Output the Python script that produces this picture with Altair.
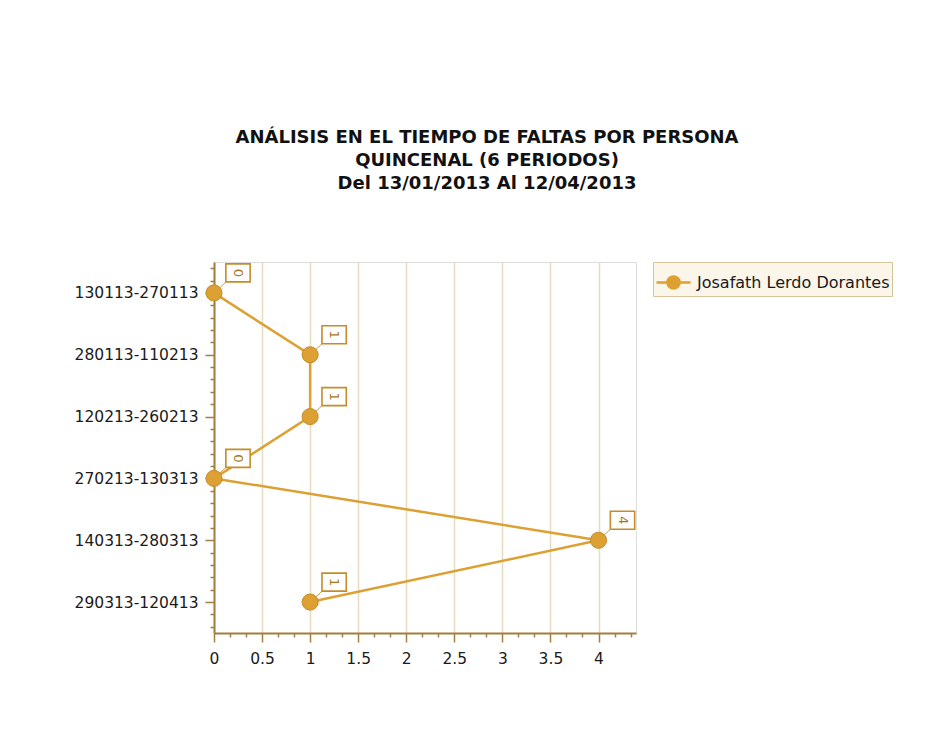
import altair as alt
import pandas as pd

# ---- data ----
periods = ["130113-270113", "280113-110213", "120213-260213",
           "270213-130313", "140313-280313", "290313-120413"]
faltas = [0, 1, 1, 0, 4, 1]
persona = "Josafath Lerdo Dorantes"
title_lines = ["ANÁLISIS EN EL TIEMPO DE FALTAS POR PERSONA",
               "QUINCENAL (6 PERIODOS)",
               "Del 13/01/2013 Al 12/04/2013"]
x_ticks = [round(i / 6, 6) for i in range(27)]            # majors every 0.5, minors every 1/6
y_ticks = [round(-0.4 + 0.2 * k, 6) for k in range(30)]    # majors on periods, 4 minors between

df = pd.DataFrame({
    "idx": list(range(len(periods))),
    "periodo": periods,
    "faltas": faltas,
    "persona": [persona] * len(periods),
})

GOLD = "#dca033"
GOLD_DARK = "#c48d2a"
AXIS = "#a17f3f"
FONT = "DejaVu Sans"

labels_js = "[" + ",".join("'" + p + "'" for p in periods) + "]"
x_major = "abs(datum.value*2 - round(datum.value*2)) < 0.001"
y_major = "abs(datum.value - round(datum.value)) < 0.001"

x_enc = alt.X(
    "faltas:Q",
    scale=alt.Scale(domain=[0, 4.39], nice=False, zero=False),
    axis=alt.Axis(
        title=None, values=x_ticks, tickCount=200, format="~g",
        labelExpr=x_major + " ? datum.label : ''",
        tickSize={"condition": {"test": x_major, "value": 9}, "value": 4},
        gridOpacity={"condition": {"test": x_major, "value": 1}, "value": 0},
        grid=True, gridColor="#e6dac0", gridWidth=1.5,
        domainColor=AXIS, domainWidth=2, tickColor=AXIS, tickWidth=1.5,
        labelFont=FONT, labelFontSize=15.5, labelColor="#1a1a1a", labelPadding=9,
        labelFlush=False, labelOverlap=False,
    ),
)
y_enc = alt.Y(
    "idx:Q",
    scale=alt.Scale(domain=[-0.5, 5.5], reverse=True, nice=False, zero=False),
    axis=alt.Axis(
        title=None, values=y_ticks, tickCount=200, grid=False,
        labelExpr=y_major + " ? " + labels_js + "[round(datum.value)] : ''",
        tickSize={"condition": {"test": y_major, "value": 9}, "value": 4},
        domainColor=AXIS, domainWidth=2, tickColor=AXIS, tickWidth=1.5,
        labelFont=FONT, labelFontSize=15.5, labelColor="#1a1a1a", labelPadding=7,
        labelFlush=False, labelOverlap=False,
    ),
)

base = alt.Chart(df)

line = base.mark_line(strokeWidth=2.5).encode(
    x=x_enc, y=y_enc, order=alt.Order("idx:Q"),
    color=alt.Color(
        "persona:N",
        scale=alt.Scale(range=[GOLD]),
        legend=alt.Legend(
            title=None, orient="none", legendX=439, legendY=0,
            symbolType="M-1,0H1M-0.36,0A0.36,0.36 0 1,0 0.36,0A0.36,0.36 0 1,0 -0.36,0",
            symbolSize=1156, symbolStrokeWidth=2.5, symbolFillColor=GOLD, symbolStrokeColor=GOLD,
            labelFont=FONT, labelFontSize=16, labelColor="#1a1a1a", labelOffset=5, labelLimit=400,
            padding=2, fillColor="#fbf5ea", strokeColor="#d6c49a",
        ),
    ),
)

points = base.mark_circle(size=260, opacity=1, color=GOLD, stroke=GOLD_DARK, strokeWidth=1).encode(
    x="faltas:Q", y="idx:Q"
)

leader = base.mark_rule(color="#c99a45", strokeWidth=1, x2Offset=12, y2Offset=-11).encode(
    x="faltas:Q", y="idx:Q", x2="faltas:Q", y2="idx:Q"
)

boxes = base.mark_point(
    shape="M-1.35,-1H1.35V1H-1.35Z", size=324, filled=True, fill="white",
    stroke=GOLD_DARK, strokeWidth=1.6, opacity=1, xOffset=24, yOffset=-20,
).encode(x="faltas:Q", y="idx:Q")

texts = base.mark_text(
    angle=90, xOffset=24, yOffset=-20, font=FONT, fontSize=13,
    color="#a8761c", align="center", baseline="middle",
).encode(x="faltas:Q", y="idx:Q", text="faltas:Q")

chart = alt.layer(line, leader, points, boxes, texts).properties(
    width=422, height=371,
    title=alt.TitleParams(
        text=title_lines, font=FONT, fontSize=18, fontWeight="bold", color="#111111",
        anchor="middle", frame="group", dx=62, offset=68, lineHeight=23,
    ),
    padding={"left": 206, "top": 254, "right": 303, "bottom": 97},
    autosize=alt.AutoSizeParams(type="none"),
).configure_view(
    fill="#f7efdf", stroke="#dccba6", strokeWidth=1.5,
).configure(background="white")

chart.save("out.html", embed_options={"renderer": "svg", "actions": False})
